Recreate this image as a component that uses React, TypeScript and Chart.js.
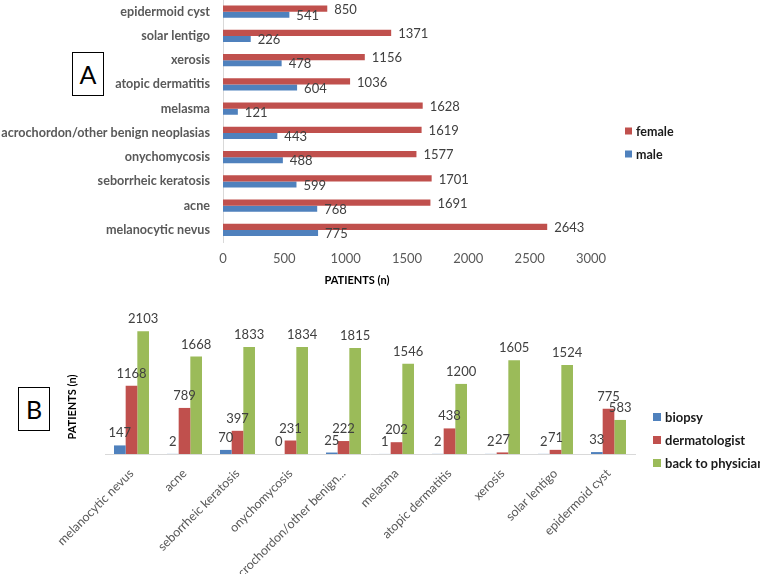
import React, { useEffect, useRef } from "react";
import { Chart, registerables } from "chart.js";

Chart.register(...registerables);

const FONT = "Lato";

// Chart A (top to bottom)
const categoriesA = [
  "epidermoid cyst",
  "solar lentigo",
  "xerosis",
  "atopic dermatitis",
  "melasma",
  "acrochordon/other benign neoplasias",
  "onychomycosis",
  "seborrheic keratosis",
  "acne",
  "melanocytic nevus",
];
const femaleA = [850, 1371, 1156, 1036, 1628, 1619, 1577, 1701, 1691, 2643];
const maleA = [541, 226, 478, 604, 121, 443, 488, 599, 768, 775];
const axisMinA = 0;
const axisMaxA = 3000;
const axisStepA = 500;

// Chart B (left to right)
const categoriesB = [
  "melanocytic nevus",
  "acne",
  "seborrheic keratosis",
  "onychomycosis",
  "acrochordon/other benign...",
  "melasma",
  "atopic dermatitis",
  "xerosis",
  "solar lentigo",
  "epidermoid cyst",
];
const biopsyB = [147, 2, 70, 0, 25, 1, 2, 2, 2, 33];
const dermatologistB = [1168, 789, 397, 231, 222, 202, 438, 27, 71, 775];
const backB = [2103, 1668, 1833, 1834, 1815, 1546, 1200, 1605, 1524, 583];
const axisMaxB = 2500;

const RED = "#C0504D";
const BLUE = "#4F81BD";
const GREEN = "#9BBB59";

const A_OFFSET = 21; // canvas A starts above the page top

function valueLabelPlugin(horizontal: boolean) {
  return {
    id: "valueLabels",
    afterDatasetsDraw(chart: any) {
      const ctx = chart.ctx;
      ctx.save();
      ctx.font = `13px ${FONT}`;
      ctx.fillStyle = "#404040";
      chart.data.datasets.forEach((ds: any, di: number) => {
        const meta = chart.getDatasetMeta(di);
        meta.data.forEach((el: any, i: number) => {
          const v = ds.data[i];
          if (horizontal) {
            ctx.textAlign = "left";
            ctx.textBaseline = "middle";
            ctx.fillText(String(v), el.x + 7, el.y + 1);
          } else {
            ctx.textAlign = "center";
            ctx.textBaseline = "alphabetic";
            ctx.fillText(String(v), el.x, el.y - 8);
          }
        });
      });
      ctx.restore();
    },
  };
}

function legendPlugin(x: number, y0: number, gap: number, box: number, fontSize: number) {
  return {
    id: "customLegend",
    afterDraw(chart: any) {
      const ctx = chart.ctx;
      ctx.save();
      ctx.font = `bold ${fontSize}px ${FONT}`;
      ctx.textAlign = "left";
      ctx.textBaseline = "middle";
      chart.data.datasets.forEach((ds: any, i: number) => {
        const y = y0 + i * gap;
        ctx.fillStyle = ds.backgroundColor;
        ctx.fillRect(x, y - box / 2, box, box);
        ctx.fillStyle = "#1a1a1a";
        ctx.fillText(ds.label, x + box + 4, y + 1);
      });
      ctx.restore();
    },
  };
}

function axisTitlePlugin(text: string, x: number, y: number, rotate: boolean) {
  return {
    id: "axisTitle",
    afterDraw(chart: any) {
      const ctx = chart.ctx;
      ctx.save();
      ctx.font = `bold 11px ${FONT}`;
      ctx.fillStyle = "#000000";
      ctx.textAlign = "center";
      ctx.textBaseline = "middle";
      ctx.translate(x, y);
      if (rotate) ctx.rotate(-Math.PI / 2);
      ctx.fillText(text, 0, 0);
      ctx.restore();
    },
  };
}

function ChartA() {
  const ref = useRef<HTMLCanvasElement>(null);
  useEffect(() => {
    const chart = new Chart(ref.current as HTMLCanvasElement, {
      type: "bar",
      data: {
        labels: categoriesA,
        datasets: [
          { label: "female", data: femaleA, backgroundColor: RED, categoryPercentage: 0.5, barPercentage: 1 },
          { label: "male", data: maleA, backgroundColor: BLUE, categoryPercentage: 0.5, barPercentage: 1 },
        ],
      },
      options: {
        indexAxis: "y",
        responsive: false,
        animation: false,
        events: [],
        layout: { padding: { left: 0, right: 169, top: 0, bottom: 0 } },
        plugins: { legend: { display: false }, tooltip: { enabled: false } },
        scales: {
          x: {
            min: axisMinA,
            max: axisMaxA,
            ticks: {
              stepSize: axisStepA,
              color: "#595959",
              font: { family: FONT, size: 13 },
              padding: 9,
              callback: (v: any) => String(v),
            },
            grid: { display: false, drawTicks: false },
            border: { display: false },
            afterFit: (s: any) => {
              s.height = 48;
            },
          },
          y: {
            ticks: { color: "#595959", font: { family: FONT, size: 12.6, weight: "bold" }, padding: 13, autoSkip: false },
            grid: { display: false, drawTicks: false },
            border: { display: true, color: "#D9D9D9" },
            afterFit: (s: any) => {
              s.width = 223;
            },
          },
        },
      } as any,
      plugins: [
        valueLabelPlugin(true),
        legendPlugin(625, 131 + A_OFFSET, 23, 7, 12.5),
        axisTitlePlugin("PATIENTS (n)", 357, 280 + A_OFFSET, false),
      ],
    });
    return () => chart.destroy();
  }, []);
  return <canvas ref={ref} width={760} height={290 + A_OFFSET} style={{ width: 760, height: 290 + A_OFFSET, display: "block" }} />;
}

function ChartB() {
  const ref = useRef<HTMLCanvasElement>(null);
  useEffect(() => {
    const chart = new Chart(ref.current as HTMLCanvasElement, {
      type: "bar",
      data: {
        labels: categoriesB,
        datasets: [
          { label: "biopsy", data: biopsyB, backgroundColor: BLUE, categoryPercentage: 0.66, barPercentage: 1 },
          { label: "dermatologist", data: dermatologistB, backgroundColor: RED, categoryPercentage: 0.66, barPercentage: 1 },
          { label: "back to physician", data: backB, backgroundColor: GREEN, categoryPercentage: 0.66, barPercentage: 1 },
        ],
      },
      options: {
        responsive: false,
        animation: false,
        events: [],
        layout: { padding: { left: 105, right: 125, top: 18, bottom: 0 } },
        plugins: { legend: { display: false }, tooltip: { enabled: false } },
        scales: {
          x: {
            ticks: {
              color: "#595959",
              font: { family: FONT, size: 12.5 },
              minRotation: 45,
              maxRotation: 45,
              autoSkip: false,
              padding: 12,
            },
            grid: { display: false, drawTicks: false },
            border: { display: true, color: "#D9D9D9" },
            afterFit: (s: any) => {
              s.height = 120;
            },
          },
          y: {
            display: false,
            min: 0,
            max: axisMaxB,
          },
        },
      } as any,
      plugins: [
        valueLabelPlugin(false),
        legendPlugin(653, 127, 23, 8, 13),
        axisTitlePlugin("PATIENTS (n)", 72, 117, true),
      ],
    });
    return () => chart.destroy();
  }, []);
  return <canvas ref={ref} width={760} height={284} style={{ width: 760, height: 284, display: "block" }} />;
}

function LetterBox({ letter, left, top }: { letter: string; left: number; top: number }) {
  return (
    <div
      style={{
        position: "absolute",
        left,
        top,
        width: 30,
        height: 42,
        border: "1px solid #000",
        display: "flex",
        alignItems: "center",
        justifyContent: "center",
        fontFamily: FONT,
        fontSize: 25,
        color: "#000",
        background: "#fff",
        boxSizing: "content-box",
      }}
    >
      {letter}
    </div>
  );
}

export default function App() {
  return (
    <div style={{ position: "absolute", left: 0, top: 0, width: 760, height: 574, background: "#fff", overflow: "hidden" }}>
      <div style={{ position: "absolute", left: 0, top: -A_OFFSET }}>
        <ChartA />
      </div>
      <div style={{ position: "absolute", left: 0, top: 290 }}>
        <ChartB />
      </div>
      <LetterBox letter="A" left={72} top={52} />
      <LetterBox letter="B" left={18} top={387} />
    </div>
  );
}
